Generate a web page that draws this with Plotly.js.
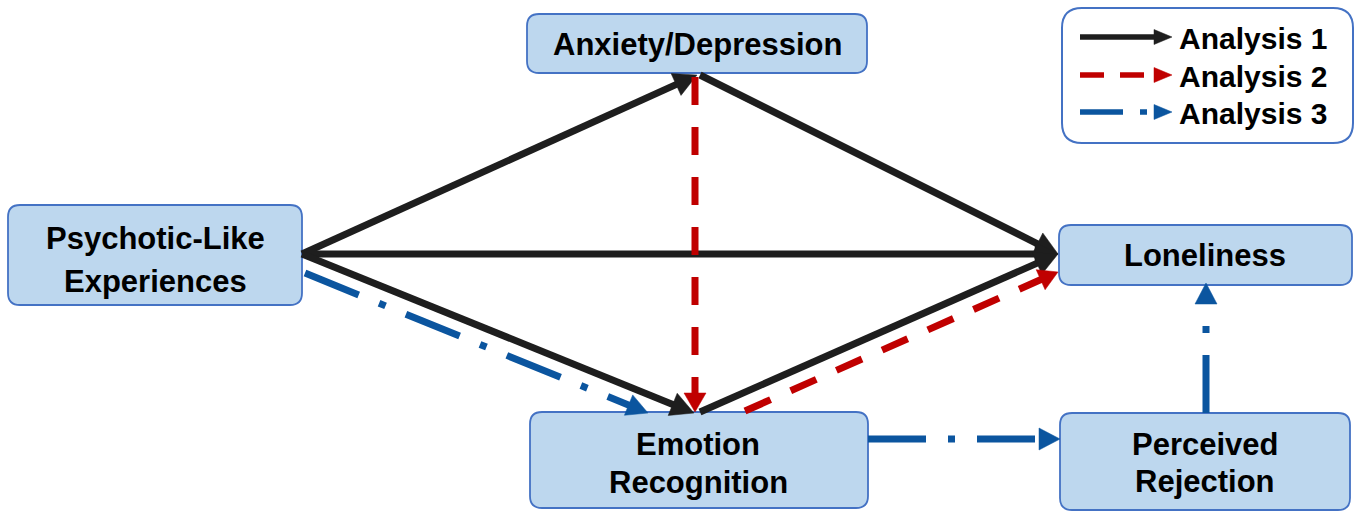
<!DOCTYPE html>
<html>
<head>
<meta charset="utf-8">
<script src="https://cdn.plot.ly/plotly-3.0.1.min.js"></script>
<style>html,body{margin:0;padding:0;background:#fff;}#chart{width:1360px;height:512px;}</style>
</head>
<body>
<div id="chart"></div>
<script>
// ---------- data ----------
const nodeIds = ['anx', 'ple', 'emo', 'lon', 'per'];
const nodeLabels = [
  ['Anxiety/Depression'],
  ['Psychotic-Like', 'Experiences'],
  ['Emotion', 'Recognition'],
  ['Loneliness'],
  ['Perceived', 'Rejection']
];
const edgeFrom     = ['ple', 'anx', 'ple', 'ple', 'emo', 'anx', 'emo', 'ple', 'emo', 'per'];
const edgeTo       = ['anx', 'lon', 'lon', 'emo', 'lon', 'emo', 'lon', 'emo', 'per', 'lon'];
const edgeAnalysis = [1, 1, 1, 1, 1, 2, 2, 3, 3, 3];
const legendLabels = ['Analysis 1', 'Analysis 2', 'Analysis 3'];

// ---------- geometry (pixel-like data units) ----------
const nodeBox = {            // [x0, y0, x1, y1]
  anx: [527, 14, 867, 73],
  ple: [8, 205, 302, 305],
  emo: [530, 412, 868, 508],
  lon: [1059, 225, 1352, 285],
  per: [1060, 413, 1350, 510]
};
const nodeTextX = { anx: 697, ple: 155, emo: 698, lon: 1205, per: 1205 };
const nodeTextY = { anx: [44], ple: [238, 281], emo: [444, 482], lon: [255], per: [444, 481] };
const edgePts = [            // [x0, y0, x1, y1] endpoints (tip at x1,y1)
  [302, 254, 697, 75],
  [700, 75, 1058, 254],
  [302, 254, 1058, 254],
  [302, 254, 694, 413],
  [700, 412, 1058, 254],
  [695, 77, 695, 412],
  [745, 411, 1058, 272],
  [305, 273, 648, 413],
  [868, 439, 1060, 439],
  [1206, 413, 1206, 283]
];
const styles = {
  1: { color: '#1e1e1e', width: 7, dash: 'solid', head: [23, 24] },
  2: { color: '#c00000', width: 7, dash: '28px,22px', head: [19, 22] },
  3: { color: '#0b559f', width: 7, dash: '58px,22px,7px,22px', head: [21, 22] }
};
const legendStyles = {
  1: { dash: 'solid', width: 5.5, head: [18, 15] },
  2: { dash: '24px,16px', width: 5.5, head: [18, 15] },
  3: { dash: '43px,17px,7px,20px', width: 5.5, head: [18, 15] }
};
const legendBox = [1062, 8, 1353, 143];
const legendLineX = [1080, 1172];
const legendRowY = [37, 75, 112];
const legendTextX = 1177;
const legendTextY = [38, 76, 113];
const FONT = 'Arial, "Liberation Sans", sans-serif';
const FONT_SIZE = 31;

// ---------- helpers ----------
function roundRect(b, r) {
  const [x0, y0, x1, y1] = b;
  return `M${x0 + r},${y0} L${x1 - r},${y0} Q${x1},${y0} ${x1},${y0 + r} L${x1},${y1 - r} Q${x1},${y1} ${x1 - r},${y1} ` +
         `L${x0 + r},${y1} Q${x0},${y1} ${x0},${y1 - r} L${x0},${y0 + r} Q${x0},${y0} ${x0 + r},${y0} Z`;
}
const traces = [];
function arrow(p, color, width, dash, head) {
  const [x0, y0, x1, y1] = p;
  const dx = x1 - x0, dy = y1 - y0, len = Math.hypot(dx, dy);
  const ux = dx / len, uy = dy / len, nx = -uy, ny = ux;
  const [L, W] = head;
  const ex = x1 - ux * L * 0.85, ey = y1 - uy * L * 0.85;
  traces.push({ type: 'scatter', mode: 'lines', x: [x0, ex], y: [y0, ey], hoverinfo: 'skip',
    line: { color: color, width: width, dash: dash } });
  const bx = x1 - ux * L, by = y1 - uy * L;
  traces.push({ type: 'scatter', mode: 'lines', fill: 'toself', fillcolor: color, hoverinfo: 'skip',
    x: [x1, bx + nx * W / 2, bx - nx * W / 2, x1],
    y: [y1, by + ny * W / 2, by - ny * W / 2, y1],
    line: { color: color, width: 0.5 } });
}

// ---------- build ----------
const shapes = [];
const annotations = [];
nodeIds.forEach((id, i) => {
  shapes.push({ type: 'path', path: roundRect(nodeBox[id], 12), layer: 'below',
    fillcolor: '#bdd7ee', line: { color: '#4472c4', width: 1.8 } });
  nodeLabels[i].forEach((t, k) => {
    annotations.push({ x: nodeTextX[id], y: nodeTextY[id][k], xref: 'x', yref: 'y', showarrow: false,
      text: '<b>' + t + '</b>', xanchor: 'center', yanchor: 'middle',
      font: { family: FONT, size: FONT_SIZE, color: '#000' } });
  });
});
shapes.push({ type: 'path', path: roundRect(legendBox, 20), layer: 'below',
  fillcolor: '#ffffff', line: { color: '#4472c4', width: 2 } });

edgeAnalysis.forEach((a, i) => {
  const s = styles[a];
  arrow(edgePts[i], s.color, s.width, s.dash, s.head);
});

legendLabels.forEach((lab, i) => {
  const s = styles[i + 1], ls = legendStyles[i + 1];
  arrow([legendLineX[0], legendRowY[i], legendLineX[1], legendRowY[i]], s.color, ls.width, ls.dash, ls.head);
  annotations.push({ x: legendTextX, y: legendTextY[i], xref: 'x', yref: 'y', showarrow: false,
    text: '<b>' + lab + '</b>', xanchor: 'left', yanchor: 'middle',
    font: { family: FONT, size: FONT_SIZE - 1, color: '#000' } });
});

const layout = {
  width: 1360, height: 512,
  margin: { l: 0, r: 0, t: 0, b: 0 },
  paper_bgcolor: '#ffffff', plot_bgcolor: '#ffffff',
  showlegend: false,
  xaxis: { range: [0, 1360], visible: false, fixedrange: true },
  yaxis: { range: [512, 0], visible: false, fixedrange: true },
  shapes: shapes,
  annotations: annotations
};
Plotly.newPlot('chart', traces, layout, { staticPlot: true, displayModeBar: false });
</script>
</body>
</html>
